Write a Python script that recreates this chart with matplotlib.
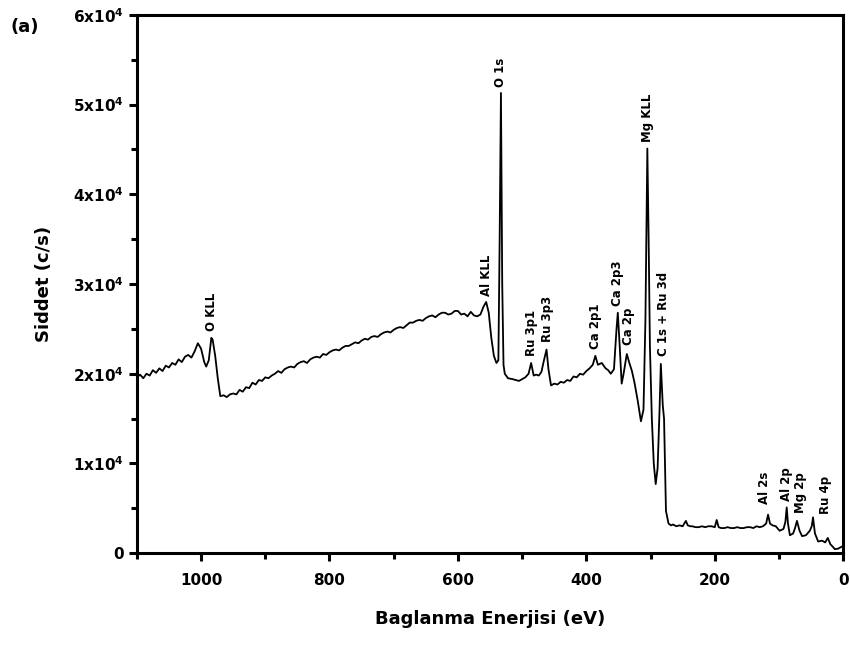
import matplotlib.pyplot as plt
from matplotlib.ticker import MultipleLocator, FixedLocator, FixedFormatter

# binding energy (eV) and intensity (x1e4 c/s)
energia = [1100, 1095, 1090, 1085, 1080, 1075, 1070, 1065, 1060, 1055, 1050, 1045,
           1040, 1035, 1030, 1025, 1020, 1015, 1010, 1005, 1000, 995, 992, 988, 984,
           982, 978, 974, 970, 965, 960, 955, 950, 945, 940, 935, 930, 925, 920, 915,
           910, 905, 900, 895, 890, 885, 880, 875, 870, 865, 860, 855, 850, 845, 840,
           835, 830, 825, 820, 815, 810, 805, 800, 795, 790, 785, 780, 775, 770, 765,
           760, 755, 750, 745, 740, 735, 730, 725, 720, 715, 710, 705, 700, 695, 690,
           685, 680, 675, 670, 665, 660, 655, 650, 645, 640, 635, 630, 625, 620, 615,
           610, 605, 600, 595, 590, 585, 580, 575, 570, 565, 560, 556, 552, 548, 544,
           540, 537, 535, 533, 531, 529, 527, 522, 515, 510, 505, 500, 495, 490, 486,
           482, 478, 474, 470, 466, 462, 459, 455, 450, 445, 440, 435, 430, 425, 420,
           415, 410, 405, 400, 395, 390, 386, 382, 376, 370, 366, 362, 357, 353, 351,
           348, 345, 342, 337, 333, 329, 325, 320, 315, 311, 308, 305, 303, 301, 298,
           295, 292, 289, 286, 284, 281, 279, 276, 272, 268, 265, 260, 255, 250, 245,
           242, 238, 235, 230, 225, 220, 215, 210, 205, 200, 197, 194, 190, 185, 180,
           175, 170, 165, 160, 155, 150, 145, 140, 135, 130, 125, 120, 117, 114, 110,
           105, 99, 93, 90, 88, 86, 83, 78, 75, 72, 68, 64, 58, 52, 49, 47, 44, 39, 33,
           28, 24, 20, 16, 13, 8, 3, 0]
siddet = [1.96, 1.99, 1.95, 2.00, 1.98, 2.04, 2.01, 2.06, 2.03, 2.09, 2.07, 2.12,
          2.10, 2.16, 2.13, 2.19, 2.21, 2.18, 2.25, 2.34, 2.28, 2.13, 2.08, 2.15, 2.40,
          2.38, 2.20, 1.95, 1.75, 1.76, 1.74, 1.77, 1.78, 1.77, 1.82, 1.80, 1.85, 1.84,
          1.90, 1.88, 1.93, 1.92, 1.96, 1.95, 1.98, 2.00, 2.03, 2.01, 2.05, 2.07, 2.08,
          2.07, 2.11, 2.13, 2.14, 2.12, 2.16, 2.18, 2.19, 2.18, 2.22, 2.21, 2.24, 2.26,
          2.27, 2.26, 2.29, 2.31, 2.31, 2.33, 2.35, 2.34, 2.37, 2.39, 2.38, 2.41, 2.42,
          2.41, 2.44, 2.46, 2.47, 2.46, 2.49, 2.51, 2.52, 2.51, 2.54, 2.57, 2.57, 2.59,
          2.60, 2.59, 2.62, 2.64, 2.65, 2.63, 2.66, 2.68, 2.68, 2.66, 2.67, 2.70, 2.70,
          2.66, 2.67, 2.64, 2.69, 2.65, 2.64, 2.66, 2.75, 2.80, 2.68, 2.40, 2.20, 2.12,
          2.15, 3.50, 5.13, 3.00, 2.10, 2.00, 1.95, 1.94, 1.93, 1.92, 1.94, 1.96, 2.00,
          2.12, 1.98, 1.99, 1.98, 2.02, 2.15, 2.27, 2.05, 1.87, 1.89, 1.88, 1.91, 1.90,
          1.93, 1.92, 1.97, 1.96, 2.00, 1.99, 2.03, 2.06, 2.10, 2.20, 2.10, 2.12, 2.06,
          2.04, 2.00, 2.05, 2.50, 2.68, 2.30, 1.89, 2.00, 2.22, 2.12, 2.03, 1.90, 1.70,
          1.47, 1.60, 2.60, 4.51, 3.50, 2.30, 1.50, 1.00, 0.77, 0.95, 1.60, 2.11, 1.65,
          1.50, 0.47, 0.33, 0.31, 0.32, 0.30, 0.31, 0.30, 0.36, 0.31, 0.30, 0.30, 0.29,
          0.29, 0.30, 0.29, 0.30, 0.30, 0.29, 0.37, 0.29, 0.28, 0.28, 0.29, 0.28, 0.28,
          0.29, 0.28, 0.28, 0.29, 0.29, 0.28, 0.30, 0.29, 0.30, 0.33, 0.43, 0.33, 0.31,
          0.30, 0.25, 0.27, 0.35, 0.51, 0.33, 0.20, 0.22, 0.28, 0.36, 0.25, 0.19, 0.20,
          0.25, 0.30, 0.40, 0.22, 0.13, 0.14, 0.12, 0.17, 0.10, 0.07, 0.045, 0.05, 0.07,
          0.08]

# peak labels: text, energy, bottom of text (x1e4)
etiketler = ["O KLL", "Al KLL", "O 1s", "Ru 3p1", "Ru 3p3", "Ca 2p1", "Ca 2p3",
             "Ca 2p", "Mg KLL", "C 1s + Ru 3d", "Al 2s", "Al 2p", "Mg 2p", "Ru 4p"]
etiket_x = [983, 556, 533, 486, 461, 386, 351, 334, 305, 280, 123, 89, 66, 27]
etiket_y = [2.48, 2.87, 5.20, 2.20, 2.35, 2.28, 2.76, 2.32, 4.58, 2.20, 0.55, 0.58, 0.45, 0.44]

ytick_vals = [0, 1, 2, 3, 4, 5, 6]
ytick_text = ["0"] + ["%dx10$^{4}$" % v for v in ytick_vals[1:]]

plt.rcParams['font.family'] = 'DejaVu Sans'
plt.rcParams['font.weight'] = 'bold'
plt.rcParams['axes.labelweight'] = 'bold'
plt.rcParams['mathtext.default'] = 'bf'

fig = plt.figure(figsize=(8.5, 6.47), dpi=100)
ax = fig.add_axes([0.161, 0.145, 0.831, 0.832])

ax.plot(energia, [v * 1e4 for v in siddet], color="black", linewidth=1.3)

for t, x, y in zip(etiketler, etiket_x, etiket_y):
    ax.text(x, y * 1e4, t, rotation=90, ha="center", va="bottom", fontsize=8.5)

ax.set_xlim(1100, 0)
ax.set_ylim(0, 6e4)
ax.xaxis.set_major_locator(MultipleLocator(200))
ax.xaxis.set_minor_locator(MultipleLocator(100))
ax.yaxis.set_major_locator(FixedLocator([v * 1e4 for v in ytick_vals]))
ax.yaxis.set_major_formatter(FixedFormatter(ytick_text))
ax.yaxis.set_minor_locator(MultipleLocator(5000))

for s in ax.spines.values():
    s.set_linewidth(2.2)
ax.tick_params(which="major", direction="out", length=6, width=2.2, labelsize=11)
ax.tick_params(which="minor", direction="out", length=4, width=2.2)
ax.tick_params(axis="x", pad=8)

ax.set_xlabel("Baglanma Enerjisi (eV)", fontsize=13, labelpad=16)
ax.set_ylabel("Siddet (c/s)", fontsize=13, labelpad=14)
fig.text(0.012, 0.95, "(a)", fontsize=13, fontweight="bold")

plt.savefig("out.png", dpi=100)
